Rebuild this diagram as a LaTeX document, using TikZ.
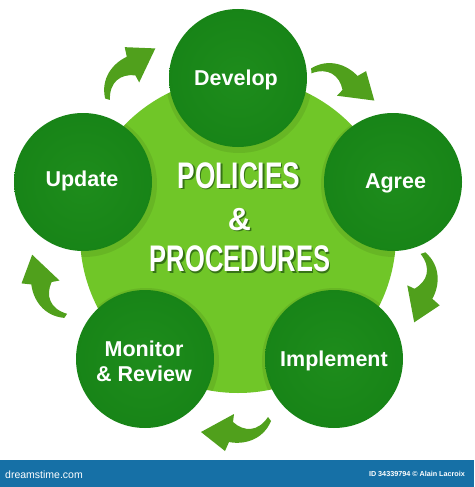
\documentclass[tikz,border=0pt]{standalone}
\usepackage{fontspec}
\setmainfont{Liberation Sans}
\definecolor{dkin}{RGB}{30,140,28}
\definecolor{dkmid}{RGB}{22,130,22}
\definecolor{dkout}{RGB}{14,98,14}
\definecolor{ltin}{RGB}{112,198,40}
\definecolor{ltout}{RGB}{92,178,28}
\definecolor{arrowgreen}{RGB}{80,160,28}
\definecolor{footerblue}{RGB}{22,112,166}
\definecolor{txtshadow}{RGB}{30,80,15}
\pgfdeclareradialshading{stageshade}{\pgfpoint{0bp}{0bp}}{color(0bp)=(dkin); color(32bp)=(dkmid); color(46bp)=(dkmid); color(50bp)=(dkout)}
\pgfdeclareradialshading{coreshade}{\pgfpoint{0bp}{0bp}}{color(0bp)=(ltin); color(40bp)=(ltin); color(50bp)=(ltout)}
\newcommand\cyclearrowpath{%
  \fill[arrowgreen] (-35,0) -- (-2,-18) -- (-3,-10) .. controls (8,0) and (22,0) .. (32,-15)
    -- (35,-11) .. controls (27,8) and (8,13) .. (-7,10) -- (-11,19) -- cycle;}
\begin{document}
\begin{tikzpicture}[x=1pt,y=-1pt,
  stage/.style={circle, minimum size=138pt, inner sep=0pt, shading=stageshade},
  lbl/.style={text=white, font=\fontsize{21.5}{26}\selectfont\bfseries, anchor=base, inner sep=0pt},
  coretext/.style={text=white, font=\fontsize{37}{40}\selectfont\bfseries, anchor=base, inner sep=0pt},
  coreshadow/.style={coretext, text=txtshadow, opacity=0.7}]
\useasboundingbox (0,0) rectangle (474,487);
\fill[white] (0,0) rectangle (474,487);
% central circle
\node[circle, minimum size=316pt, inner sep=0pt, shading=coreshade] (core) at (238,235) {};
% soft shadows of outer circles on central circle
\begin{scope}
  \clip (238,235) circle (158);
  \foreach \p in {(238,78),(393,182),(334,359),(145,359),(83,182)}
    \fill[black, opacity=0.08] \p ++(1,2) circle (73);
\end{scope}
% outer circles
\node[stage] (dev) at (238,78) {};
\node[stage] (agr) at (393,182) {};
\node[stage] (imp) at (334,359) {};
\node[stage] (mon) at (145,359) {};
\node[stage] (upd) at (83,182) {};
% labels
\node[lbl] (devl) at (236,85) {Develop};
\node[lbl] (agrl) at (395.5,188.3) {Agree};
\node[lbl] (updl) at (82,186) {Update};
\node[lbl] (impl) at (334,366) {Implement};
\node[lbl] (monl1) at (144,356) {Monitor};
\node[lbl] (monl2) at (144,381.7) {\& Review};
% central text
\node[coreshadow] (pols) at (240.5,189.8) {\scalebox{0.71}[1]{POLICIES}};
\node[coretext] (pol) at (239,188.3) {\scalebox{0.71}[1]{POLICIES}};
\node[coreshadow, font=\fontsize{32}{34}\selectfont\bfseries] (amps) at (241,231.5) {\&};
\node[coretext, font=\fontsize{32}{34}\selectfont\bfseries] (amp) at (239.5,230) {\&};
\node[coreshadow] (procs) at (241.5,273.2) {\scalebox{0.69}[1]{PROCEDURES}};
\node[coretext] (proc) at (240,271.7) {\scalebox{0.69}[1]{PROCEDURES}};
% cycle arrows
\begin{scope}[shift={(236,432)}] \cyclearrowpath \end{scope}
\begin{scope}[shift={(43,288)}, rotate=-72] \cyclearrowpath \end{scope}
\begin{scope}[shift={(127,69)}, rotate=-144] \cyclearrowpath \end{scope}
\begin{scope}[shift={(346,80)}, rotate=144] \cyclearrowpath \end{scope}
\begin{scope}[shift={(425,289)}, rotate=72] \cyclearrowpath \end{scope}
% footer
\fill[footerblue] (0,460) rectangle (474,487);
\node[text=white, font=\fontsize{10.5}{12}\selectfont, anchor=base west, inner sep=0pt] (brand) at (5,478) {dreamstime.com};
\node[text=white, font=\fontsize{7.2}{8}\selectfont\bfseries, anchor=base east, inner sep=0pt] (credit) at (465,476) {ID 34339794 © Alain Lacroix};
\end{tikzpicture}
\end{document}
